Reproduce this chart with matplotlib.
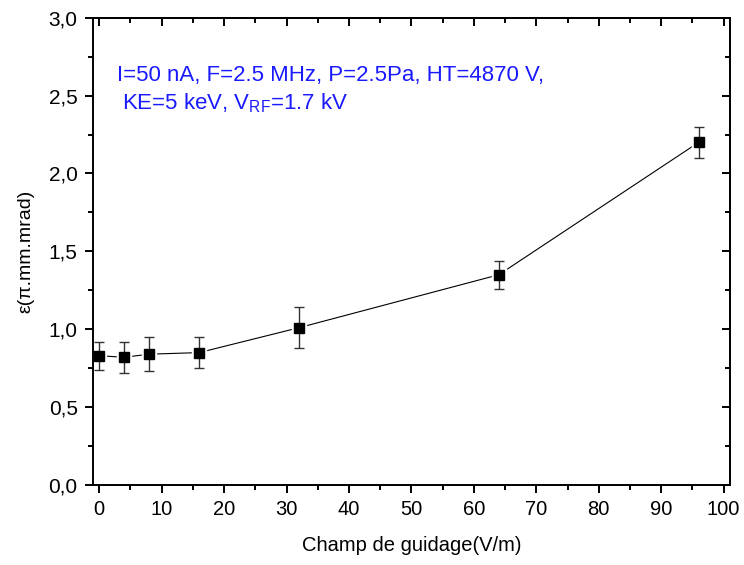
import matplotlib
matplotlib.use('Agg')
import matplotlib.pyplot as plt
from matplotlib.ticker import MultipleLocator

plt.rcParams['font.family'] = ['Liberation Sans', 'DejaVu Sans']
plt.rcParams['mathtext.fontset'] = 'custom'
plt.rcParams['mathtext.rm'] = 'Liberation Sans'
plt.rcParams['mathtext.it'] = 'Liberation Sans:italic'

# guiding field (V/m) and emittance (pi.mm.mrad)
champ = [0, 4, 8, 16, 32, 64, 96]
emit = [0.83, 0.82, 0.84, 0.85, 1.01, 1.35, 2.20]
emit_err = [0.09, 0.10, 0.11, 0.10, 0.13, 0.09, 0.10]

fig = plt.figure(figsize=(7.44, 5.65), dpi=100)
ax = fig.add_axes([0.125, 0.1416, 0.856, 0.827])

# connecting line, with white masks so it stops short of the markers
ax.plot(champ, emit, color='black', lw=0.8, zorder=1)
ax.plot(champ, emit, ls='none', marker='s', ms=10, mfc='white', mec='white', zorder=2)
ax.errorbar(champ, emit, yerr=emit_err, fmt='none', ecolor='#333333',
            elinewidth=1.0, capsize=3.5, capthick=1.0, zorder=3)
ax.plot(champ, emit, ls='none', marker='s', ms=7, mfc='black', mec='black', zorder=4)

ax.set_xlim(-1, 101)
ax.set_ylim(0, 3.0)
ax.xaxis.set_major_locator(MultipleLocator(10))
ax.xaxis.set_minor_locator(MultipleLocator(5))
ax.yaxis.set_major_locator(MultipleLocator(0.5))
ax.yaxis.set_minor_locator(MultipleLocator(0.25))
ax.yaxis.set_major_formatter(plt.FuncFormatter(lambda v, p: f'{v:.1f}'.replace('.', ',')))

for s in ax.spines.values():
    s.set_linewidth(1.4)

ax.tick_params(which='both', direction='out', top=False, right=False, width=1.4)
ax.tick_params(which='major', length=6)
ax.tick_params(which='minor', length=3.5)
ax.tick_params(axis='x', labelsize=14.5, pad=5)
ax.tick_params(axis='y', labelsize=15, pad=5)

# inward ticks on top and right, as mirrored axes
axt = ax.secondary_xaxis('top')
axt.xaxis.set_major_locator(MultipleLocator(10))
axt.xaxis.set_minor_locator(MultipleLocator(5))
axt.tick_params(which='both', direction='in', labeltop=False, width=1.4)
axt.tick_params(which='major', length=6)
axt.tick_params(which='minor', length=3.5)
axr = ax.secondary_yaxis('right')
axr.yaxis.set_major_locator(MultipleLocator(0.5))
axr.yaxis.set_minor_locator(MultipleLocator(0.25))
axr.tick_params(which='both', direction='in', labelright=False, width=1.4)
axr.tick_params(which='major', length=6)
axr.tick_params(which='minor', length=3.5)
for a in (axt, axr):
    for s in a.spines.values():
        s.set_linewidth(1.4)

ax.set_xlabel('Champ de guidage(V/m)', fontsize=14.5, labelpad=12)
ax.set_ylabel('ε(π.mm.mrad)', fontsize=14, labelpad=10)

ax.text(0.037, 0.877, 'I=50 nA, F=2.5 MHz, P=2.5Pa, HT=4870 V,', transform=ax.transAxes,
        color='#1a1aff', fontsize=16, va='center', ha='left')
ax.text(0.045, 0.817, r'KE=5 keV, V$_{\mathrm{RF}}$=1.7 kV', transform=ax.transAxes,
        color='#1a1aff', fontsize=16, va='center', ha='left')

fig.savefig('out.png', dpi=100)
